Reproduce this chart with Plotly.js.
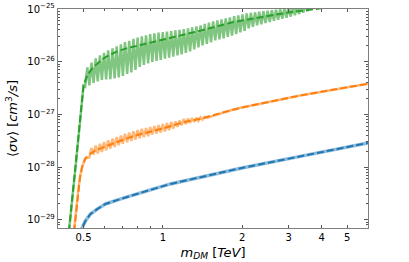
<!DOCTYPE html>
<html>
<head>
<meta charset="utf-8">
<script src="https://cdn.plot.ly/plotly-3.0.1.min.js"></script>
<style>html,body{margin:0;padding:0;background:#fff;}#chart{width:409px;height:262px;}</style>
</head>
<body>
<div id="chart"></div>
<script>
// ---------- data (m_DM in TeV, <sigma v> in cm^3/s) ----------
// Blue series
const blueMass = [0.489, 0.492, 0.5087, 0.5314, 0.5632, 0.6058, 0.6609, 0.7213, 0.811, 0.937, 1.069, 1.994, 3.317, 6.0];
const blueSigv = [5.0e-30, 6.8e-30, 9.6e-30, 1.29e-29, 1.60e-29, 2.0e-29, 2.31e-29, 2.67e-29, 3.18e-29, 3.95e-29, 4.8e-29, 9.66e-29, 1.6e-28, 2.88e-28];

// Orange series: smooth (dashed) curve
const orangeMass = [0.460, 0.4773, 0.4857, 0.4943, 0.5074, 0.5254, 0.5537, 0.6041, 0.6592, 0.7258, 0.813, 0.911, 1.0, 1.197, 1.385, 1.80, 1.994, 3.317, 6.0];
const orangeSigv = [6.0e-30, 3.57e-29, 6.9e-29, 1.02e-28, 1.45e-28, 1.73e-28, 2.06e-28, 2.45e-28, 2.92e-28, 3.48e-28, 4.15e-28, 4.83e-28, 5.4e-28, 7.1e-28, 8.24e-28, 1.19e-27, 1.35e-27, 2.29e-27, 3.82e-27];
// Orange series: oscillating curve
const orangeOscMass = [0.460, 0.4773, 0.4857, 0.4943, 0.5074,
  0.526, 0.536, 0.546, 0.556, 0.566, 0.577, 0.587, 0.598, 0.609, 0.620,
  0.632, 0.644, 0.656, 0.668, 0.680, 0.693, 0.705, 0.718, 0.732, 0.745,
  0.759, 0.773, 0.787, 0.802, 0.817, 0.832, 0.847, 0.863, 0.879, 0.895,
  0.912, 0.928, 0.946, 0.963, 0.981, 0.999, 1.018, 1.036, 1.056, 1.075,
  1.095, 1.115, 1.136, 1.157, 1.178, 1.200, 1.222, 1.245, 1.268, 1.291,
  1.315, 1.340, 1.364, 1.390, 1.415, 1.442, 1.468,
  1.80, 1.994, 3.317, 6.0];
const orangeOscSigv = [6.0e-30, 3.57e-29, 6.9e-29, 1.02e-28, 1.45e-28,
  1.52e-28, 2.3e-28, 1.73e-28, 2.56e-28, 1.81e-28, 2.77e-28, 1.94e-28, 2.98e-28, 2.09e-28, 3.22e-28,
  2.25e-28, 3.47e-28, 2.42e-28, 3.73e-28, 2.61e-28, 3.99e-28, 2.79e-28, 4.28e-28, 2.96e-28, 4.53e-28,
  3.13e-28, 4.8e-28, 3.33e-28, 5.07e-28, 3.52e-28, 5.32e-28, 3.69e-28, 5.49e-28, 3.86e-28, 5.77e-28,
  4.15e-28, 6.03e-28, 4.34e-28, 6.3e-28, 4.53e-28, 6.57e-28, 4.75e-28, 6.87e-28, 5.04e-28, 7.18e-28,
  5.4e-28, 7.33e-28, 5.81e-28, 7.69e-28, 6.21e-28, 8.18e-28, 6.55e-28, 8.36e-28, 6.87e-28, 8.55e-28,
  7.18e-28, 8.66e-28, 7.56e-28, 8.81e-28, 8.0e-28, 8.93e-28, 8.55e-28,
  1.19e-27, 1.35e-27, 2.29e-27, 3.82e-27];

// Green series: smooth (dashed) curve
const greenMass = [0.440, 0.469, 0.500, 0.516, 0.539, 0.572, 0.606, 0.661, 0.721, 0.811, 1.0, 1.406, 1.853, 2.55, 3.0, 3.8, 4.2];
const greenSigv = [6e-30, 1.33e-28, 3.55e-27, 5.5e-27, 7.4e-27, 9.8e-27, 1.22e-26, 1.52e-26, 1.77e-26, 2.04e-26, 2.6e-26, 3.94e-26, 5.66e-26, 7.6e-26, 8.6e-26, 1.0e-25, 1.07e-25];
// Green series: oscillating curve
const greenOscMass = [0.440, 0.469, 0.500,
  0.507, 0.517, 0.526, 0.536, 0.546, 0.556, 0.566, 0.577, 0.587, 0.598,
  0.609, 0.620, 0.632, 0.644, 0.656, 0.668, 0.680, 0.693, 0.705, 0.718,
  0.732, 0.745, 0.759, 0.773, 0.787, 0.802, 0.817, 0.832, 0.847, 0.863,
  0.879, 0.895, 0.912, 0.928, 0.946, 0.963, 0.981, 0.999, 1.018, 1.036,
  1.056, 1.075, 1.095, 1.115, 1.136, 1.157, 1.178, 1.200, 1.222, 1.245,
  1.268, 1.291, 1.315, 1.340, 1.364, 1.390, 1.415, 1.442, 1.468, 1.495,
  1.523, 1.551, 1.580, 1.609, 1.639, 1.669, 1.700, 1.731, 1.763, 1.796,
  1.829, 1.863, 1.897, 1.932, 1.968, 2.004, 2.041, 2.079, 2.117, 2.156,
  2.196, 2.237, 2.278, 2.320, 2.363, 2.407, 2.451, 2.497, 2.543, 2.590,
  2.638, 2.687, 2.736, 2.787, 2.838, 2.891, 2.944, 2.999, 3.054, 3.111,
  3.168, 3.227, 3.287, 3.347, 3.409, 3.473, 3.537, 3.602, 3.669, 3.737, 3.806];
const greenOscSigv = [6e-30, 1.33e-28, 3.55e-27,
  3.39e-27, 7.8e-27, 3.54e-27, 9.57e-27, 3.95e-27, 1.16e-26, 4.22e-27, 1.32e-26, 4.5e-27, 1.48e-26,
  4.6e-27, 1.64e-26, 4.67e-27, 1.79e-26, 4.82e-27, 1.95e-26, 5.04e-27, 2.13e-26, 5.37e-27, 2.36e-26,
  5.86e-27, 2.48e-26, 6.26e-27, 2.71e-26, 6.98e-27, 2.86e-26, 7.96e-27, 3.03e-26, 8.69e-27, 3.16e-26,
  9.29e-27, 3.35e-26, 9.86e-27, 3.45e-26, 1.03e-26, 3.56e-26, 1.08e-26, 3.66e-26, 1.14e-26, 3.73e-26,
  1.19e-26, 3.82e-26, 1.25e-26, 3.94e-26, 1.32e-26, 4.03e-26, 1.38e-26, 4.15e-26, 1.47e-26, 4.3e-26,
  1.57e-26, 4.49e-26, 1.71e-26, 4.69e-26, 1.87e-26, 4.9e-26, 2.04e-26, 5.23e-26, 2.18e-26, 5.51e-26,
  2.33e-26, 5.84e-26, 2.54e-26, 6.1e-26, 2.65e-26, 6.37e-26, 2.77e-26, 6.65e-26, 2.96e-26, 6.95e-26,
  3.12e-26, 7.33e-26, 3.33e-26, 7.59e-26, 3.6e-26, 7.93e-26, 3.85e-26, 8.28e-26, 4.3e-26, 8.47e-26,
  4.59e-26, 8.65e-26, 4.9e-26, 8.85e-26, 5.12e-26, 9.04e-26, 5.4e-26, 9.24e-26, 5.66e-26, 9.45e-26,
  5.97e-26, 9.66e-26, 6.24e-26, 9.87e-26, 6.52e-26, 1.03e-25, 6.8e-26, 1.08e-25, 7.17e-26, 1.13e-25,
  7.59e-26, 1.18e-25, 8.0e-26, 1.23e-25, 8.47e-26, 1.28e-25, 9.04e-26, 1.34e-25, 9.66e-26, 1.4e-25, 1.03e-25];

// Tick labels
const xTickVals = [0.5, 1, 2, 3, 4, 5];
const xTickText = ['0.5', '1', '2', '3', '4', '5'];
const xMinorVals = [0.4, 0.6, 0.7, 0.8, 0.9, 6];
const yTickVals = [1e-29, 1e-28, 1e-27, 1e-26, 1e-25];
const yTickText = ['10<sup>\u221229</sup>', '10<sup>\u221228</sup>', '10<sup>\u221227</sup>', '10<sup>\u221226</sup>', '10<sup>\u221225</sup>'];
const yMinorVals = [];
[-30, -29, -28, -27, -26].forEach(e => { for (let m = 2; m <= 9; m++) yMinorVals.push(m * Math.pow(10, e)); });

// ---------- drawing ----------
const C_BLUE = '#1f77b4', C_ORANGE = '#ff7f0e', C_GREEN = '#2ca02c';
const light = (hex, a) => {
  const r = parseInt(hex.slice(1, 3), 16), g = parseInt(hex.slice(3, 5), 16), b = parseInt(hex.slice(5, 7), 16);
  return `rgba(${r},${g},${b},${a})`;
};

const traces = [
  {x: blueMass, y: blueSigv, mode: 'lines', line: {color: light(C_BLUE, 0.5), width: 3.5, simplify: false}},
  {x: blueMass, y: blueSigv, mode: 'lines', line: {color: C_BLUE, width: 2, dash: '7px,3px'}},
  {x: orangeOscMass, y: orangeOscSigv, mode: 'lines', line: {color: light(C_ORANGE, 0.55), width: 2.5, simplify: false}},
  {x: orangeMass, y: orangeSigv, mode: 'lines', line: {color: C_ORANGE, width: 2, dash: '7px,3px'}},
  {x: greenOscMass, y: greenOscSigv, mode: 'lines', line: {color: light(C_GREEN, 0.6), width: 2.5, simplify: false}},
  {x: greenMass, y: greenSigv, mode: 'lines', line: {color: C_GREEN, width: 2, dash: '7px,3px'}}
];
traces.forEach(t => { t.showlegend = false; t.hoverinfo = 'skip'; });

const axisCommon = {
  type: 'log',
  showgrid: false,
  zeroline: false,
  showline: true,
  linecolor: '#7f7f7f',
  linewidth: 1.2,
  mirror: 'ticks',
  ticks: 'inside',
  tickcolor: '#555',
  tickwidth: 1,
  tickfont: {family: 'DejaVu Sans', size: 10, color: '#000'}
};

const layout = {
  width: 409,
  height: 262,
  margin: {l: 58, r: 41, t: 9, b: 34},
  paper_bgcolor: '#fff',
  plot_bgcolor: '#fff',
  showlegend: false,
  xaxis: Object.assign({}, axisCommon, {
    range: [Math.log10(0.4), Math.log10(6.0)],
    tickmode: 'array',
    tickvals: xTickVals,
    ticktext: xTickText,
    ticklen: 3,
    minor: {tickmode: 'array', tickvals: xMinorVals, ticks: 'inside', ticklen: 2, tickcolor: '#555', showgrid: false},
    title: {text: '<i>m</i><sub><i>DM</i></sub> [<i>TeV</i>]', font: {family: 'DejaVu Sans', size: 13, color: '#000'}, standoff: 5}
  }),
  yaxis: Object.assign({}, axisCommon, {
    range: [Math.log10(7e-30), -25],
    tickmode: 'array',
    tickvals: yTickVals,
    ticktext: yTickText,
    ticklen: 4,
    minor: {tickmode: 'array', tickvals: yMinorVals, ticks: 'inside', ticklen: 2, tickcolor: '#555', showgrid: false},
    title: {text: '\u27e8<i>\u03c3v</i>\u27e9 [<i>cm</i><sup>3</sup><i>/s</i>]', font: {family: 'DejaVu Sans', size: 13, color: '#000'}, standoff: 6}
  })
};

Plotly.newPlot('chart', traces, layout, {staticPlot: true, displayModeBar: false});
</script>
</body>
</html>
